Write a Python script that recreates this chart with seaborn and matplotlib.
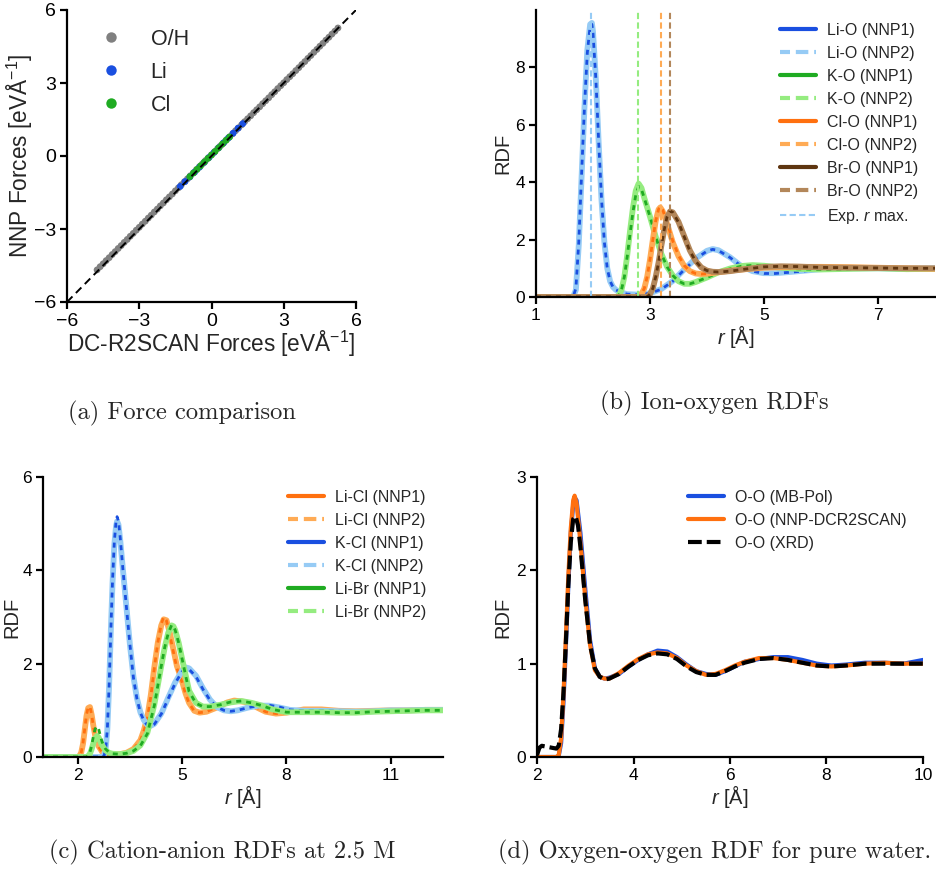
import matplotlib
matplotlib.use("Agg")
import matplotlib.pyplot as plt
import seaborn as sns
import pandas as pd
from matplotlib.lines import Line2D

# ---------------- (a) force comparison ----------------
dft_OH = [-4.75, -4.625, -4.5, -4.375, -4.25, -4.125, -4.0, -3.875, -3.75, -3.625,
          -3.5, -3.375, -3.25, -3.125, -3.0, -2.875, -2.75, -2.625, -2.5, -2.375,
          -2.25, -2.125, -2.0, -1.875, -1.75, -1.625, -1.5, -1.375, -1.25, -1.125,
          -1.0, -0.875, -0.75, -0.625, -0.5, -0.375, -0.25, -0.125, 0.0, 0.125,
          0.25, 0.375, 0.5, 0.625, 0.75, 0.875, 1.0, 1.125, 1.25, 1.375,
          1.5, 1.625, 1.75, 1.875, 2.0, 2.125, 2.25, 2.375, 2.5, 2.625,
          2.75, 2.875, 3.0, 3.125, 3.25, 3.375, 3.5, 3.625, 3.75, 3.875,
          4.0, 4.125, 4.25, 4.375, 4.5, 4.625, 4.75, 4.875, 5.0, 5.125, 5.25]
nnp_OH = [-4.68, -4.55, -4.43, -4.30, -4.18, -4.05, -3.93, -3.80, -3.68, -3.55,
          -3.43, -3.30, -3.18, -3.05, -2.93, -2.80, -2.68, -2.55, -2.43, -2.30,
          -2.18, -2.05, -1.93, -1.80, -1.68, -1.56, -1.43, -1.31, -1.18, -1.06,
          -0.94, -0.81, -0.69, -0.56, -0.44, -0.32, -0.19, -0.07, 0.05, 0.17,
          0.30, 0.42, 0.54, 0.67, 0.79, 0.91, 1.04, 1.16, 1.28, 1.41,
          1.53, 1.65, 1.78, 1.90, 2.02, 2.15, 2.27, 2.39, 2.52, 2.64,
          2.77, 2.89, 3.01, 3.14, 3.26, 3.38, 3.51, 3.63, 3.76, 3.88,
          4.01, 4.13, 4.26, 4.38, 4.51, 4.63, 4.76, 4.88, 5.01, 5.13, 5.26]
dft_Li = [-1.3, -1.1, -0.9, -0.7, -0.5, -0.3, -0.1, 0.1, 0.3, 0.5, 0.7, 0.9, 1.1, 1.3]
nnp_Li = [-1.25, -1.05, -0.86, -0.66, -0.46, -0.26, -0.06, 0.14, 0.34, 0.54, 0.74, 0.94, 1.14, 1.33]
dft_Cl = [-0.9, -0.75, -0.6, -0.45, -0.3, -0.15, 0.0, 0.15, 0.3, 0.45, 0.6, 0.75]
nnp_Cl = [-0.85, -0.70, -0.55, -0.40, -0.25, -0.10, 0.04, 0.19, 0.34, 0.49, 0.64, 0.78]
parity = [-6, 6]
force_species = ["O/H", "Li", "Cl"]

# ---------------- (b) ion-oxygen RDFs ----------------
r_LiO = [1.0, 1.6, 1.65, 1.7, 1.75, 1.8, 1.85, 1.9, 1.95, 1.98, 2.0, 2.05, 2.1, 2.15, 2.2, 2.25, 2.3,
         2.35, 2.4, 2.5, 2.6, 2.8, 3.0, 3.2, 3.4, 3.6, 3.8, 4.0, 4.1, 4.2, 4.4, 4.6, 4.8, 5.0, 5.2,
         5.5, 6.0, 6.5, 7.0, 7.5, 8.0]
g_LiO_1 = [0, 0, 0.0, 0.3, 1.9, 4.3, 6.6, 8.5, 9.45, 9.5, 9.2, 7.6, 5.4, 3.4, 1.9, 1.0, 0.55, 0.35,
           0.25, 0.15, 0.1, 0.08, 0.13, 0.27, 0.55, 0.95, 1.33, 1.6, 1.66, 1.62, 1.38, 1.08, 0.9, 0.82,
           0.82, 0.87, 0.96, 1.0, 1.0, 0.97, 1.0]
g_LiO_2 = [0, 0, 0.0, 0.25, 1.8, 4.2, 6.6, 8.6, 9.5, 9.55, 9.25, 7.6, 5.35, 3.35, 1.9, 1.0, 0.55, 0.35,
           0.25, 0.15, 0.1, 0.08, 0.13, 0.28, 0.56, 0.96, 1.34, 1.61, 1.67, 1.63, 1.39, 1.08, 0.9, 0.83,
           0.83, 0.88, 0.97, 1.0, 1.0, 0.98, 1.0]
r_KO = [1.0, 2.4, 2.45, 2.5, 2.55, 2.6, 2.65, 2.7, 2.75, 2.8, 2.85, 2.9, 3.0, 3.1, 3.2, 3.3, 3.4, 3.5,
        3.6, 3.7, 3.8, 4.0, 4.2, 4.4, 4.6, 4.8, 5.0, 5.3, 5.6, 6.0, 6.5, 7.0, 7.5, 8.0]
g_KO_1 = [0, 0, 0.05, 0.25, 0.7, 1.4, 2.2, 2.95, 3.55, 3.85, 3.75, 3.45, 2.8, 2.1, 1.5, 1.05, 0.75,
          0.55, 0.46, 0.46, 0.52, 0.68, 0.85, 0.98, 1.07, 1.1, 1.08, 1.02, 0.98, 0.96, 0.98, 1.0, 0.97, 0.98]
g_KO_2 = [0, 0, 0.05, 0.25, 0.7, 1.45, 2.3, 3.1, 3.7, 3.95, 3.8, 3.45, 2.8, 2.1, 1.5, 1.05, 0.75,
          0.55, 0.46, 0.46, 0.52, 0.68, 0.86, 0.99, 1.08, 1.11, 1.09, 1.02, 0.98, 0.96, 0.98, 1.0, 0.97, 0.98]
r_ClO = [1.0, 2.78, 2.85, 2.9, 2.95, 3.0, 3.05, 3.1, 3.15, 3.18, 3.22, 3.3, 3.4, 3.5, 3.6, 3.7, 3.8,
         3.9, 4.0, 4.2, 4.5, 5.0, 5.5, 6.0, 6.5, 7.0, 7.5, 8.0]
g_ClO_1 = [0, 0, 0.1, 0.3, 0.7, 1.3, 2.0, 2.65, 3.05, 3.15, 3.05, 2.6, 1.95, 1.45, 1.1, 0.9, 0.82, 0.8,
           0.81, 0.86, 0.94, 1.02, 1.05, 1.04, 1.03, 1.02, 1.0, 0.98]
g_ClO_2 = [0, 0, 0.1, 0.3, 0.7, 1.3, 2.0, 2.65, 3.05, 3.12, 3.0, 2.55, 1.9, 1.42, 1.08, 0.9, 0.82, 0.8,
           0.81, 0.86, 0.94, 1.02, 1.05, 1.05, 1.04, 1.02, 1.0, 0.98]
r_BrO = [1.0, 2.95, 3.0, 3.05, 3.1, 3.15, 3.2, 3.25, 3.3, 3.35, 3.4, 3.5, 3.6, 3.7, 3.8, 3.9, 4.0, 4.1,
         4.2, 4.4, 4.7, 5.0, 5.3, 5.6, 6.0, 6.5, 7.0, 7.5, 8.0]
g_BrO_1 = [0, 0, 0.1, 0.3, 0.7, 1.2, 1.8, 2.35, 2.8, 3.0, 2.95, 2.6, 2.1, 1.6, 1.25, 1.02, 0.92, 0.88,
           0.87, 0.9, 0.98, 1.05, 1.07, 1.06, 1.03, 1.02, 1.01, 1.0, 1.0]
g_BrO_2 = [0, 0, 0.1, 0.3, 0.7, 1.2, 1.8, 2.35, 2.78, 2.98, 2.95, 2.62, 2.12, 1.62, 1.26, 1.03, 0.92,
           0.88, 0.87, 0.9, 0.98, 1.05, 1.07, 1.06, 1.03, 1.02, 1.01, 1.0, 1.0]
exp_rmax = [1.96, 2.79, 3.19, 3.35]  # Li, K, Cl, Br

# ---------------- (c) cation-anion RDFs ----------------
r_LiCl = [1.0, 2.0, 2.05, 2.1, 2.15, 2.2, 2.25, 2.3, 2.35, 2.4, 2.45, 2.5, 2.6, 2.7, 2.8, 3.0, 3.2, 3.4,
          3.6, 3.8, 3.9, 4.0, 4.1, 4.2, 4.3, 4.4, 4.47, 4.55, 4.65, 4.75, 4.85, 5.0, 5.1, 5.2, 5.35, 5.5,
          5.7, 6.0, 6.3, 6.5, 6.8, 7.1, 7.4, 7.7, 8.0, 8.5, 9.0, 9.5, 10.0, 10.5, 11.0, 11.5, 12.0, 12.5]
g_LiCl_1 = [0, 0, 0.02, 0.1, 0.3, 0.6, 0.9, 1.07, 1.08, 0.9, 0.65, 0.45, 0.22, 0.1, 0.06, 0.05, 0.06,
            0.09, 0.17, 0.35, 0.55, 0.82, 1.3, 1.9, 2.45, 2.85, 3.0, 2.92, 2.6, 2.25, 1.9, 1.6, 1.35, 1.15,
            0.98, 0.95, 0.97, 1.07, 1.18, 1.22, 1.18, 1.08, 0.97, 0.93, 0.95, 1.02, 1.02, 0.99, 0.98, 0.99,
            1.0, 1.0, 1.01, 1.01]
g_LiCl_2 = [0, 0, 0.02, 0.1, 0.28, 0.58, 0.88, 1.05, 1.07, 0.9, 0.66, 0.46, 0.23, 0.11, 0.06, 0.05,
            0.06, 0.09, 0.17, 0.36, 0.57, 0.85, 1.33, 1.92, 2.45, 2.82, 2.95, 2.93, 2.65, 2.3, 1.95, 1.62,
            1.36, 1.16, 0.99, 0.95, 0.97, 1.06, 1.17, 1.21, 1.18, 1.08, 0.97, 0.93, 0.95, 1.02, 1.02, 0.99,
            0.98, 0.99, 1.0, 1.0, 1.01, 1.01]
r_KCl = [1.0, 2.7, 2.75, 2.8, 2.85, 2.9, 2.95, 3.0, 3.05, 3.1, 3.13, 3.17, 3.22, 3.3, 3.4, 3.5, 3.6, 3.7,
         3.8, 3.9, 4.0, 4.1, 4.2, 4.4, 4.6, 4.8, 5.0, 5.1, 5.2, 5.4, 5.6, 5.8, 6.0, 6.2, 6.4, 6.6, 6.9,
         7.2, 7.5, 7.8, 8.1, 8.5, 9.0, 9.5, 10.0, 10.5, 11.0, 11.5, 12.0, 12.5]
g_KCl_1 = [0, 0, 0.02, 0.15, 0.6, 1.5, 2.7, 3.8, 4.6, 5.05, 5.15, 5.05, 4.7, 4.0, 3.2, 2.4, 1.7, 1.25,
           0.95, 0.78, 0.68, 0.66, 0.7, 0.92, 1.25, 1.58, 1.83, 1.9, 1.88, 1.72, 1.45, 1.22, 1.07, 1.0,
           0.98, 1.0, 1.06, 1.1, 1.11, 1.07, 1.01, 0.99, 0.99, 0.98, 0.97, 0.98, 1.0, 1.0, 1.01, 1.01]
g_KCl_2 = [0, 0, 0.02, 0.15, 0.6, 1.5, 2.7, 3.75, 4.55, 4.95, 5.05, 4.98, 4.65, 4.0, 3.2, 2.4, 1.72,
           1.26, 0.96, 0.79, 0.69, 0.67, 0.71, 0.93, 1.27, 1.6, 1.85, 1.92, 1.9, 1.74, 1.47, 1.23, 1.07,
           1.0, 0.98, 1.0, 1.06, 1.1, 1.1, 1.06, 1.01, 0.99, 0.99, 0.98, 0.97, 0.98, 1.0, 1.0, 1.01, 1.01]
r_LiBr = [1.0, 2.25, 2.3, 2.35, 2.4, 2.45, 2.5, 2.55, 2.6, 2.65, 2.7, 2.8, 2.9, 3.0, 3.2, 3.4, 3.6, 3.8,
          4.0, 4.2, 4.4, 4.5, 4.6, 4.7, 4.75, 4.8, 4.9, 5.0, 5.2, 5.4, 5.6, 5.8, 6.1, 6.4, 6.7, 7.0, 7.3,
          7.6, 8.0, 8.5, 9.0, 9.5, 10.0, 10.5, 11.0, 11.5, 12.0, 12.5]
g_LiBr_1 = [0, 0, 0.03, 0.1, 0.25, 0.45, 0.6, 0.66, 0.6, 0.45, 0.32, 0.17, 0.1, 0.07, 0.06, 0.08, 0.13,
            0.24, 0.5, 1.1, 1.95, 2.35, 2.65, 2.83, 2.8, 2.72, 2.45, 2.1, 1.4, 1.15, 1.08, 1.08, 1.12,
            1.18, 1.2, 1.16, 1.1, 1.02, 0.96, 0.96, 0.96, 0.95, 0.95, 0.97, 0.98, 0.99, 1.0, 1.0]
g_LiBr_2 = [0, 0, 0.02, 0.07, 0.17, 0.3, 0.4, 0.45, 0.42, 0.33, 0.25, 0.14, 0.09, 0.07, 0.06, 0.08,
            0.13, 0.25, 0.52, 1.12, 1.95, 2.35, 2.66, 2.82, 2.8, 2.72, 2.45, 2.1, 1.42, 1.16, 1.08, 1.08,
            1.12, 1.17, 1.2, 1.16, 1.1, 1.02, 0.96, 0.96, 0.96, 0.95, 0.95, 0.97, 0.98, 0.99, 1.0, 1.0]

# ---------------- (d) oxygen-oxygen RDF ----------------
r_OO = [2.0, 2.4, 2.45, 2.5, 2.55, 2.6, 2.65, 2.7, 2.75, 2.78, 2.82, 2.9, 3.0, 3.1, 3.2, 3.3, 3.4, 3.5,
        3.7, 3.9, 4.1, 4.3, 4.5, 4.7, 4.9, 5.1, 5.3, 5.5, 5.7, 5.9, 6.1, 6.3, 6.6, 6.9, 7.2, 7.5, 7.8,
        8.1, 8.4, 8.8, 9.2, 9.6, 10.0]
g_OO_mbpol = [0, 0, 0.01, 0.15, 0.6, 1.2, 1.85, 2.4, 2.7, 2.78, 2.75, 2.4, 1.8, 1.25, 0.95, 0.86, 0.84,
              0.85, 0.89, 0.97, 1.04, 1.1, 1.14, 1.13, 1.07, 0.99, 0.92, 0.89, 0.88, 0.92, 0.97, 1.02,
              1.05, 1.07, 1.07, 1.04, 1.0, 0.98, 0.99, 1.01, 1.01, 1.0, 1.04]
g_OO_nnp = [0, 0, 0.02, 0.2, 0.68, 1.3, 1.95, 2.45, 2.75, 2.8, 2.72, 2.3, 1.7, 1.2, 0.93, 0.86, 0.84,
            0.84, 0.9, 0.98, 1.05, 1.1, 1.12, 1.11, 1.06, 0.98, 0.92, 0.88, 0.89, 0.93, 0.98, 1.02, 1.06,
            1.06, 1.04, 1.01, 0.98, 0.97, 0.98, 1.0, 1.01, 1.0, 1.0]
r_xrd = [2.0, 2.05, 2.1, 2.2, 2.3, 2.4, 2.45, 2.5, 2.55, 2.6, 2.65, 2.7, 2.75, 2.8, 2.85, 2.9, 3.0, 3.1,
         3.2, 3.3, 3.4, 3.5, 3.7, 3.9, 4.1, 4.3, 4.5, 4.7, 4.9, 5.1, 5.3, 5.5, 5.7, 5.9, 6.1, 6.3, 6.6,
         6.9, 7.2, 7.5, 7.8, 8.1, 8.4, 8.8, 9.2, 9.6, 10.0]
g_xrd = [0.02, 0.1, 0.12, 0.11, 0.1, 0.09, 0.12, 0.3, 0.7, 1.25, 1.85, 2.3, 2.55, 2.58, 2.48, 2.25, 1.68,
         1.2, 0.95, 0.86, 0.83, 0.84, 0.89, 0.97, 1.04, 1.09, 1.11, 1.1, 1.05, 0.97, 0.91, 0.88, 0.88,
         0.92, 0.97, 1.01, 1.05, 1.06, 1.04, 1.01, 0.98, 0.97, 0.98, 1.0, 1.0, 1.0, 1.0]

# ---------------- colours ----------------
BLUE, LBLUE = "#1a4fe0", "#96cbf5"
GREEN, LGREEN = "#1fab22", "#95ec80"
ORANGE, LORANGE = "#ff700f", "#ffab55"
BROWN, LBROWN = "#5e3510", "#b3875a"
GREY = "#808080"

sns.set_style("ticks")
plt.rcParams['font.family'] = ['Liberation Sans', 'DejaVu Sans']
plt.rcParams['mathtext.fontset'] = 'custom'
plt.rcParams['mathtext.rm'] = 'Liberation Sans'
plt.rcParams['mathtext.it'] = 'Liberation Sans:italic'
plt.rcParams['mathtext.bf'] = 'Liberation Sans:bold'

fig = plt.figure(figsize=(9.36, 8.81), dpi=100)
W, H = 936.0, 881.0


def add_ax(l, t, r, b):
    return fig.add_axes([l / W, 1 - b / H, (r - l) / W, (b - t) / H])


def style(ax, xt, yt, xlim, ylim, xlabel, ylabel, tsize, lsize, xl_y, yl_x):
    for s in ["top", "right"]:
        ax.spines[s].set_visible(False)
    for s in ["left", "bottom"]:
        ax.spines[s].set_linewidth(1.6)
        ax.spines[s].set_color("black")
    ax.tick_params(direction="out", length=5, width=1.6, labelsize=tsize, colors="black", pad=3)
    ax.set_xticks(xt)
    ax.set_yticks(yt)
    ax.set_xlim(*xlim)
    ax.set_ylim(*ylim)
    ax.set_xlabel(xlabel, fontsize=lsize, va="center")
    ax.set_ylabel(ylabel, fontsize=lsize, va="center")
    ax.xaxis.set_label_coords(0.5, xl_y)
    ax.yaxis.set_label_coords(yl_x, 0.5)
    ax.grid(False)


def legend(ax, handles, labels, x, y, fs, **kw):
    leg = ax.legend(handles, labels, loc="upper left", bbox_to_anchor=(x / W, 1 - y / H),
                    bbox_transform=fig.transFigure, frameon=False, fontsize=fs,
                    borderpad=0, borderaxespad=0, **kw)
    return leg


def rdf_pair(ax, r, g1, g2, dark, light):
    sns.lineplot(x=r, y=g2, ax=ax, color=light, lw=4.2, sort=False, estimator=None, legend=False,
                 solid_capstyle="butt")
    sns.lineplot(x=r, y=g1, ax=ax, color=dark, lw=2.0, sort=False, estimator=None, legend=False,
                 linestyle=(0, (1.8, 1.8)))


# ======== (a) ========
axA = add_ax(67, 10, 356, 302)
forces = pd.DataFrame({
    "dft": dft_OH + dft_Li + dft_Cl,
    "nnp": nnp_OH + nnp_Li + nnp_Cl,
    "species": ["O/H"] * len(dft_OH) + ["Li"] * len(dft_Li) + ["Cl"] * len(dft_Cl),
})
sns.scatterplot(data=forces, x="dft", y="nnp", hue="species", hue_order=force_species,
                palette={"O/H": GREY, "Li": BLUE, "Cl": GREEN}, s=24, linewidth=0, ax=axA, legend=False)
sns.lineplot(x=parity, y=parity, ax=axA, color="black", lw=1.4, linestyle=(0, (4, 2.5)),
             legend=False)
style(axA, [-6, -3, 0, 3, 6], [-6, -3, 0, 3, 6], (-6, 6), (-6, 6),
      "DC-R2SCAN Forces [eVÅ$^{-1}$]", "NNP Forces [eVÅ$^{-1}$]", 14, 16.3, -0.145, -0.162)
hA = [Line2D([], [], ls="none", marker="o", ms=7.5, mew=0, color=c) for c in (GREY, BLUE, GREEN)]
legend(axA, hA, force_species, 100, 29, 15.5, handlelength=1.0, handletextpad=1.35, labelspacing=0.55)

# ======== (b) ========
axB = add_ax(536, 10, 935, 297)
rdf_pair(axB, r_LiO, g_LiO_1, g_LiO_2, BLUE, LBLUE)
rdf_pair(axB, r_KO, g_KO_1, g_KO_2, GREEN, LGREEN)
rdf_pair(axB, r_ClO, g_ClO_1, g_ClO_2, ORANGE, LORANGE)
rdf_pair(axB, r_BrO, g_BrO_1, g_BrO_2, BROWN, LBROWN)
for xv, c in zip(exp_rmax, [LBLUE, LGREEN, LORANGE, LBROWN]):
    axB.axvline(xv, color=c, lw=1.5, linestyle=(0, (3, 1.6)))
style(axB, [1, 3, 5, 7], [0, 2, 4, 6, 8], (1, 8), (0, 10), "$\\mathit{r}$ [Å]", "RDF", 12.5, 14.5,
      -0.137, -0.083)
hB, lB = [], []
for name, d, l in [("Li-O", BLUE, LBLUE), ("K-O", GREEN, LGREEN), ("Cl-O", ORANGE, LORANGE),
                   ("Br-O", BROWN, LBROWN)]:
    hB.append(Line2D([], [], color=d, lw=3))
    lB.append(f"{name} (NNP1)")
    hB.append(Line2D([], [], color=l, lw=3, linestyle=(0.6, (3.0, 1.4))))
    lB.append(f"{name} (NNP2)")
hB.append(Line2D([], [], color=LBLUE, lw=1.5, linestyle=(0, (3, 1.6))))
lB.append("Exp. $\\mathit{r}$ max.")
legend(axB, hB, lB, 780, 23, 11.5, handlelength=2.25, handletextpad=0.7, labelspacing=0.5)

# ======== (c) ========
axC = add_ax(43, 477, 443, 757)
rdf_pair(axC, r_LiCl, g_LiCl_1, g_LiCl_2, ORANGE, LORANGE)
rdf_pair(axC, r_KCl, g_KCl_1, g_KCl_2, BLUE, LBLUE)
rdf_pair(axC, r_LiBr, g_LiBr_1, g_LiBr_2, GREEN, LGREEN)
style(axC, [2, 5, 8, 11], [0, 2, 4, 6], (1, 12.5), (0, 6), "$\\mathit{r}$ [Å]", "RDF", 12.5, 14.5,
      -0.14, -0.078)
hC, lC = [], []
for name, d, l in [("Li-Cl", ORANGE, LORANGE), ("K-Cl", BLUE, LBLUE), ("Li-Br", GREEN, LGREEN)]:
    hC.append(Line2D([], [], color=d, lw=3))
    lC.append(f"{name} (NNP1)")
    hC.append(Line2D([], [], color=l, lw=3, linestyle=(0.6, (3.0, 1.4))))
    lC.append(f"{name} (NNP2)")
legend(axC, hC, lC, 288, 490, 11.5, handlelength=2.25, handletextpad=0.7, labelspacing=0.5)

# ======== (d) ========
axD = add_ax(537, 477, 923, 757)
sns.lineplot(x=r_OO, y=g_OO_mbpol, ax=axD, color=BLUE, lw=3, sort=False, estimator=None, legend=False)
sns.lineplot(x=r_OO, y=g_OO_nnp, ax=axD, color=ORANGE, lw=3, sort=False, estimator=None, legend=False)
sns.lineplot(x=r_xrd, y=g_xrd, ax=axD, color="black", lw=3, sort=False, estimator=None, legend=False,
             linestyle=(0, (3.3, 1.2)))
style(axD, [2, 4, 6, 8, 10], [0, 1, 2, 3], (2, 10), (0, 3), "$\\mathit{r}$ [Å]", "RDF", 12.5, 14.5,
      -0.14, -0.088)
hD = [Line2D([], [], color=BLUE, lw=3), Line2D([], [], color=ORANGE, lw=3),
      Line2D([], [], color="black", lw=3, linestyle=(0, (3.3, 1.2)))]
legend(axD, hD, ["O-O (MB-Pol)", "O-O (NNP-DCR2SCAN)", "O-O (XRD)"], 688, 490, 11.5,
       handlelength=2.25, handletextpad=0.7, labelspacing=0.5)

# ======== captions ========
cap = dict(ha="center", va="center", family="cmr10", fontsize=17.6)
fig.text(182 / W, 1 - 413 / H, "(a) Force comparison", **cap)
fig.text(714 / W, 1 - 403 / H, "(b) Ion-oxygen RDFs", **cap)
fig.text(222 / W, 1 - 852 / H, "(c) Cation-anion RDFs at 2.5 M", **cap)
fig.text(715 / W, 1 - 852 / H, "(d) Oxygen-oxygen RDF for pure water.", **cap)

fig.savefig("out.png", dpi=100)
